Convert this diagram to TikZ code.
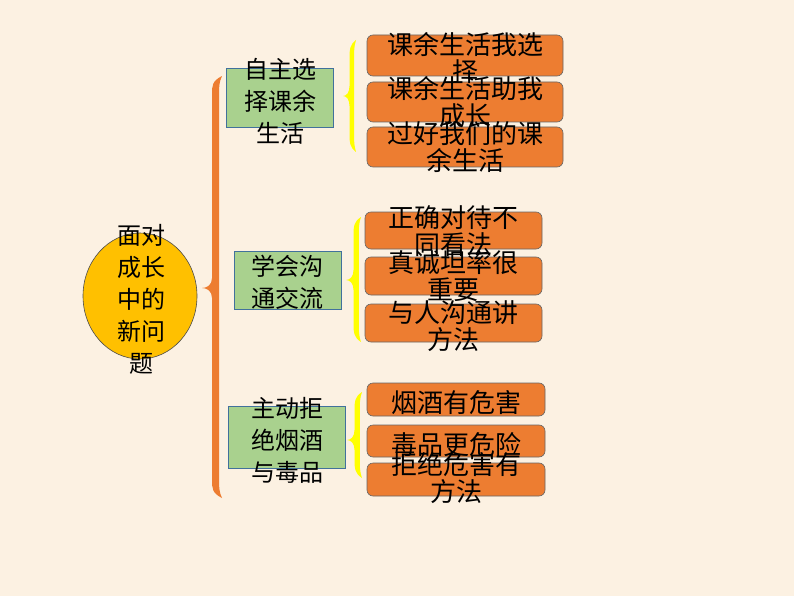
\documentclass[tikz,border=0pt]{standalone}
\usepackage{fontspec}
\usetikzlibrary{shapes.geometric}
\newfontfamily\cjk{Noto Sans CJK SC}

\definecolor{bg}{HTML}{FCF1E2}
\definecolor{topicfill}{HTML}{FFC000}
\definecolor{greenfill}{HTML}{A9D18E}
\definecolor{greenline}{HTML}{41719C}
\definecolor{orangefill}{HTML}{ED7D31}
\definecolor{bracey}{HTML}{FFFF00}

% filled brace: colour, right x, top y, tip y, bottom y, band
\newcommand{\bracefill}[6]{%
  \fill[#1] (#2,#3)
    .. controls ({#2-#6},{#3+5}) and ({#2-#6},{#3+10}) .. ({#2-#6},{#3+18})
    -- ({#2-#6},{#4-10})
    .. controls ({#2-#6},{#4-3}) and ({#2-1.5*#6},{#4}) .. ({#2-2*#6},{#4})
    .. controls ({#2-1.5*#6},{#4}) and ({#2-#6},{#4+3}) .. ({#2-#6},{#4+10})
    -- ({#2-#6},{#5-18})
    .. controls ({#2-#6},{#5-10}) and ({#2-#6},{#5-5}) .. (#2,#5)
    .. controls ({#2-0.3*#6},{#5-6}) and ({#2-0.3*#6},{#5-12}) .. ({#2-0.3*#6},{#5-18})
    -- ({#2-0.3*#6},{#3+18})
    .. controls ({#2-0.3*#6},{#3+12}) and ({#2-0.3*#6},{#3+6}) .. (#2,#3) -- cycle;}

\begin{document}
\begin{tikzpicture}[x=1pt, y=-1pt,
  topic/.style={ellipse, draw=black!70, line width=0.6pt, fill=topicfill,
    minimum width=114, minimum height=126, inner sep=0pt},
  gbox/.style={rectangle, draw=greenline, line width=0.8pt, fill=greenfill, inner sep=0pt},
  obox/.style={rectangle, rounded corners=6pt, draw=black!60, line width=0.6pt,
    fill=orangefill, inner sep=0pt},
  bigtext/.style={align=center, inner sep=0pt, font=\cjk\fontsize{24}{32}\selectfont},
  otext/.style={align=center, inner sep=0pt, font=\cjk\fontsize{26}{27}\selectfont}]

\useasboundingbox (0,0) rectangle (794,596);
\fill[bg] (0,0) rectangle (794,596);

% hlavni tema
\node[topic] (topic) at (140,296) {};
\node[bigtext] (topict) at (141,299) {面对\\成长\\中的\\新问\\题};

% velka zavorka
\bracefill{orangefill}{222}{76}{288}{498}{10}

% zelene boxy
\node[gbox, minimum width=107, minimum height=59] (g1) at (279.5,97.5) {};
\node[bigtext] (g1t) at (280,101.5) {自主选\\择课余\\生活};
\node[gbox, minimum width=107, minimum height=58] (g2) at (287.5,280) {};
\node[bigtext] (g2t) at (287,282.5) {学会沟\\通交流};
\node[gbox, minimum width=117, minimum height=62] (g3) at (286.5,437) {};
\node[bigtext] (g3t) at (287,440.5) {主动拒\\绝烟酒\\与毒品};

% zlute zavorky
\bracefill{bracey}{356}{40}{96}{152}{6.5}
\bracefill{bracey}{361}{217}{280}{342}{7.5}
\bracefill{bracey}{362}{392}{440}{478}{7.5}

% oranzove boxy
\node[obox, minimum width=196, minimum height=41] (o1) at (465,55.5) {};
\node[obox, minimum width=196, minimum height=40] (o2) at (465,102) {};
\node[obox, minimum width=196, minimum height=40] (o3) at (465,147) {};
\node[otext] (o1t) at (465,58.5) {课余生活我选\\择};
\node[otext] (o2t) at (465,102.5) {课余生活助我\\成长};
\node[otext] (o3t) at (465,147.5) {过好我们的课\\余生活};

\node[obox, minimum width=177, minimum height=37] (o4) at (453.5,230.5) {};
\node[obox, minimum width=177, minimum height=38] (o5) at (453.5,276) {};
\node[obox, minimum width=177, minimum height=38] (o6) at (453.5,323) {};
\node[otext] (o4t) at (453,231.5) {正确对待不\\同看法};
\node[otext] (o5t) at (453,276.5) {真诚坦率很\\重要};
\node[otext] (o6t) at (453,326) {与人沟通讲\\方法};

\node[obox, minimum width=178, minimum height=33] (o7) at (456,399.5) {};
\node[obox, minimum width=178, minimum height=32] (o8) at (456,441) {};
\node[obox, minimum width=178, minimum height=33] (o9) at (456,479.5) {};
\node[otext] (o7t) at (456,403) {烟酒有危害};
\node[otext] (o8t) at (456,445) {毒品更危险};
\node[otext] (o9t) at (456,478) {拒绝危害有\\方法};

\end{tikzpicture}
\end{document}
